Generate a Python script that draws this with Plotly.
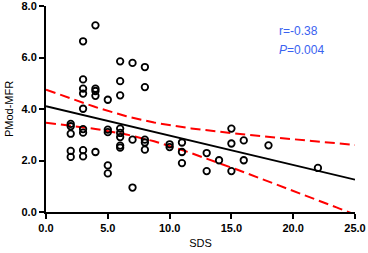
import numpy as np
import plotly.graph_objects as go

# Data
sds = [2, 2, 2, 2, 2,
       3, 3, 3, 3, 3, 3, 3, 3, 3,
       4, 4, 4, 4, 4,
       5, 5, 5, 5, 5,
       6, 6, 6, 6, 6, 6, 6, 6,
       7, 7, 7,
       8, 8, 8, 8, 8,
       10, 10,
       11, 11, 11,
       13, 13,
       14,
       15, 15, 15,
       16, 16,
       18,
       22]
mfr = [3.42, 3.33, 3.04, 2.37, 2.14,
       6.63, 5.15, 4.79, 4.60, 4.01, 3.22, 3.08, 2.40, 2.16,
       7.25, 4.79, 4.70, 4.51, 2.33,
       4.36, 3.20, 3.10, 1.81, 1.50,
       5.85, 5.08, 4.53, 3.24, 3.07, 2.91, 2.58, 2.50,
       5.79, 2.81, 0.95,
       5.63, 4.85, 2.81, 2.70, 2.42,
       2.63, 2.52,
       2.70, 2.33, 1.90,
       2.29, 1.59,
       2.01,
       3.24, 2.66, 1.59,
       2.78, 2.01,
       2.59,
       1.71]
x_ticks = [0, 5, 10, 15, 20, 25]
y_ticks = [0, 2, 4, 6, 8]
stat_r = "r=-0.38"
stat_p = "0.004"

x = np.array(sds, dtype=float)
y = np.array(mfr, dtype=float)
n = len(x)
slope, intercept = np.polyfit(x, y, 1)
xs = np.linspace(0, 25, 101)
yfit = intercept + slope * xs
resid = y - (intercept + slope * x)
s = np.sqrt(np.sum(resid ** 2) / (n - 2))
sxx = np.sum((x - x.mean()) ** 2)
tcrit = 2.006
se = s * np.sqrt(1.0 / n + (xs - x.mean()) ** 2 / sxx)
upper = yfit + tcrit * se
lower = yfit - tcrit * se

FONT = "Arial, Liberation Sans, sans-serif"
BLUE = "#3a62f0"

fig = go.Figure()
fig.add_trace(go.Scatter(x=xs, y=upper, mode="lines",
                         line=dict(color="#ff0000", width=2, dash="10px,5px"), hoverinfo="skip"))
fig.add_trace(go.Scatter(x=xs, y=lower, mode="lines",
                         line=dict(color="#ff0000", width=2, dash="10px,5px"), hoverinfo="skip"))
fig.add_trace(go.Scatter(x=xs, y=yfit, mode="lines",
                         line=dict(color="black", width=1.8)))
fig.add_trace(go.Scatter(x=sds, y=mfr, mode="markers",
                         marker=dict(symbol="circle-open", size=6.5, color="black",
                                     line=dict(width=1.8, color="black")),
                         cliponaxis=False))

fig.add_annotation(x=0.749, y=0.877, xref="paper", yref="paper", xanchor="left", yanchor="middle",
                   text=stat_r, showarrow=False, font=dict(color=BLUE, size=12, family=FONT))
fig.add_annotation(x=0.749, y=0.785, xref="paper", yref="paper", xanchor="left", yanchor="middle",
                   text="<i>P</i>=" + stat_p, showarrow=False,
                   font=dict(color=BLUE, size=12, family=FONT))

axis_common = dict(showgrid=False, zeroline=False, showline=True, linecolor="black", linewidth=2,
                   ticks="outside", ticklen=5, tickwidth=2, tickcolor="black",
                   ticklabeloverflow="allow",
                   tickfont=dict(family=FONT, size=11, color="black", weight="bold"))

fig.update_xaxes(range=[0, 25], tickvals=x_ticks, ticktext=[f"{v:.1f}" for v in x_ticks],
                 title=dict(text="SDS", font=dict(family=FONT, size=11, color="black"),
                            standoff=6),
                 automargin=False,
                 **axis_common)
fig.update_yaxes(range=[0, 8], tickvals=y_ticks, ticktext=[f"{v:.1f}" for v in y_ticks],
                 title=dict(text="PMod-MFR", font=dict(family=FONT, size=11, color="black"),
                            standoff=6),
                 automargin=False,
                 **axis_common)

fig.update_layout(width=368, height=253, margin=dict(l=46, r=13, t=6, b=41),
                  plot_bgcolor="white", paper_bgcolor="white", showlegend=False,
                  font=dict(family=FONT))
fig.write_html("out.html", config={"displayModeBar": False},
               post_script="document.body.style.margin='0';")
